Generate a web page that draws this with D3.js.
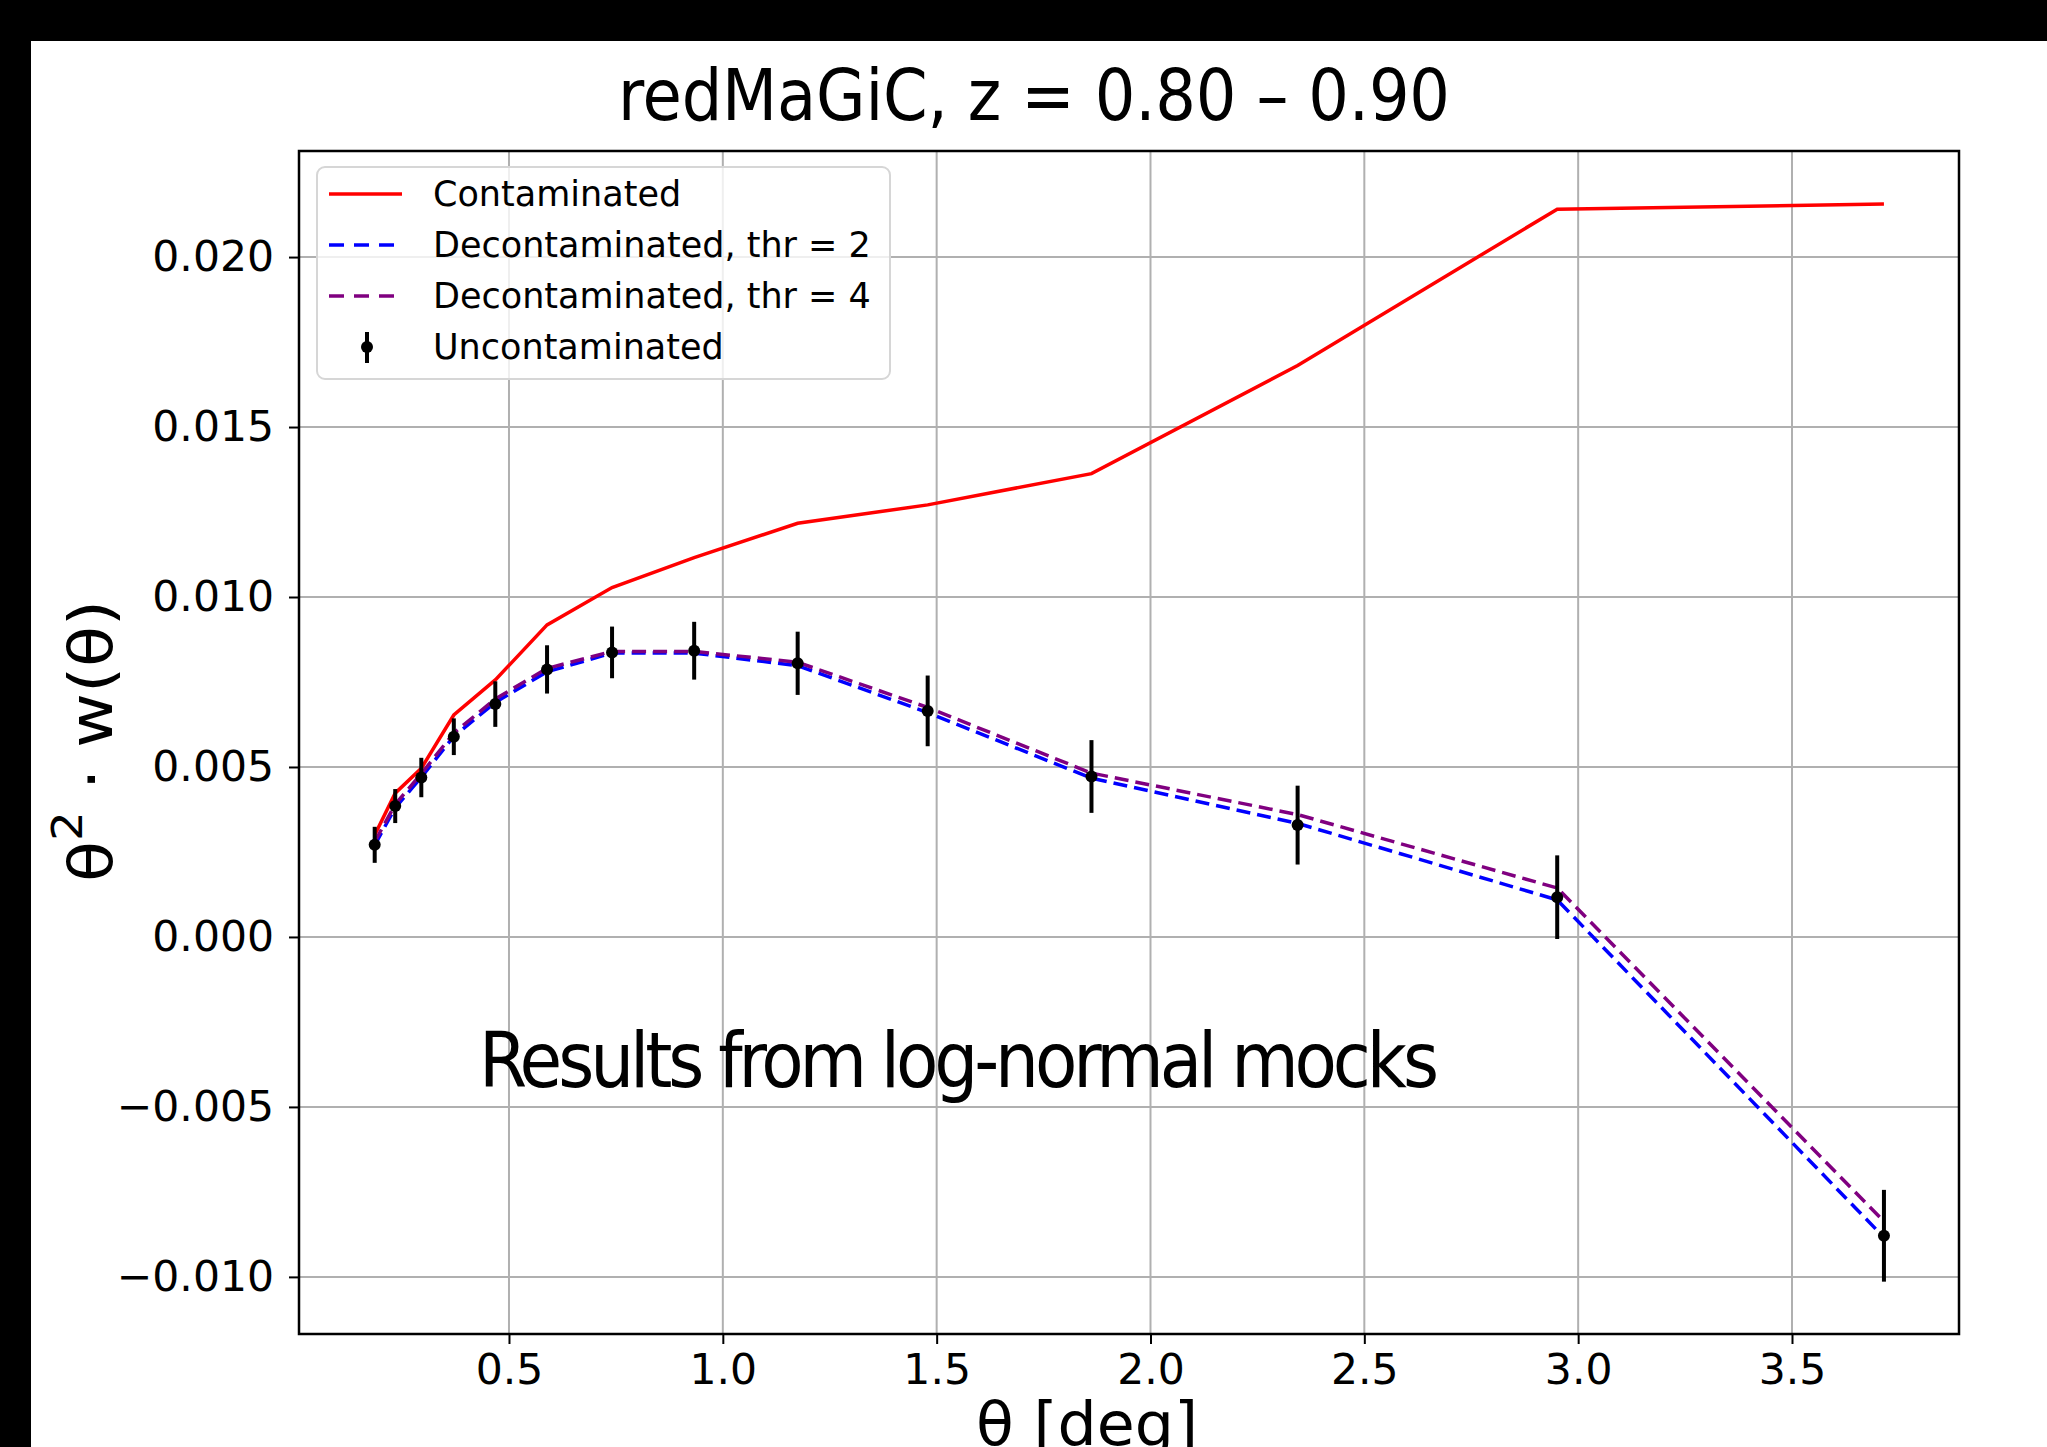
<!DOCTYPE html>
<html>
<head>
<meta charset="utf-8">
<script src="https://cdn.jsdelivr.net/npm/d3@7"></script>
<style>
  body { margin: 0; background: #fff; overflow: hidden; }
  svg text { font-family: "DejaVu Sans", sans-serif; fill: #000; }
  .slide { font-family: "Liberation Sans Narrow", "DejaVu Sans Condensed", "Liberation Sans", sans-serif; }
</style>
</head>
<body>
<svg id="chart" width="2047" height="1447"></svg>
<script>
// Data
const theta = [0.186, 0.234, 0.295, 0.371, 0.468, 0.589, 0.741, 0.933, 1.175, 1.479, 1.862, 2.344, 2.951, 3.715];
const contaminated = [0.0030, 0.00423, 0.00496, 0.00653, 0.00756, 0.00918, 0.01028, 0.01116, 0.01217, 0.01271, 0.01363, 0.01681, 0.02141, 0.02156];
const decontThr2 = [0.0027, 0.0038, 0.0047, 0.0059, 0.0069, 0.0078, 0.00835, 0.00835, 0.00798, 0.0066, 0.00467, 0.00334, 0.00109, -0.00884];
const decontThr4 = [0.0028, 0.0039, 0.0048, 0.0060, 0.0070, 0.0079, 0.0084, 0.0084, 0.00808, 0.00675, 0.00482, 0.0036, 0.00144, -0.00837];
const uncontaminated = [0.00271, 0.00385, 0.00469, 0.00589, 0.00685, 0.00787, 0.00837, 0.00842, 0.00805, 0.00665, 0.00472, 0.00329, 0.00117, -0.00879];
const uncontErr = [0.00053, 0.0005, 0.00058, 0.00054, 0.00067, 0.00071, 0.00076, 0.00085, 0.00093, 0.00104, 0.00107, 0.00116, 0.00123, 0.00135];

const xTicks = [0.5, 1.0, 1.5, 2.0, 2.5, 3.0, 3.5];
const yTicks = [-0.010, -0.005, 0.000, 0.005, 0.010, 0.015, 0.020];

const legendLabels = ['Contaminated', 'Decontaminated, thr = 2', 'Decontaminated, thr = 4', 'Uncontaminated'];
const legendColors = ['#ff0000', '#0000ff', '#800080', '#000000'];

// Layout
const W = 2047, H = 1447;
const margin = {top: 151, right: 88, bottom: 113, left: 299};
let w = W - margin.left - margin.right;
let h = H - margin.top - margin.bottom;

let svg = d3.select('#chart');

// slide background: black bands top and left
svg.append('rect').attr('width', W).attr('height', H).attr('fill', '#fff');
svg.append('rect').attr('width', W).attr('height', 41).attr('fill', '#000');
svg.append('rect').attr('width', 31).attr('height', H).attr('fill', '#000');

let xScale = d3.scaleLinear().domain([0.009, 3.8905]).range([0, w]);
let yScale = d3.scaleLinear().domain([-0.01168, 0.02312]).range([h, 0]);

let plot = svg.append('g')
  .attr('id', 'plot')
  .attr('transform', `translate(${margin.left}, ${margin.top})`);

// grid
plot.append('g').attr('class', 'grid')
  .selectAll('line.gx')
  .data(xTicks)
  .enter().append('line')
    .attr('x1', d => xScale(d)).attr('x2', d => xScale(d))
    .attr('y1', 0).attr('y2', h)
    .attr('stroke', '#b0b0b0').attr('stroke-width', 2);
plot.select('.grid')
  .selectAll('line.gy')
  .data(yTicks)
  .enter().append('line')
    .attr('x1', 0).attr('x2', w)
    .attr('y1', d => yScale(d)).attr('y2', d => yScale(d))
    .attr('stroke', '#b0b0b0').attr('stroke-width', 2);

// axes
let xAxis = d3.axisBottom(xScale).tickValues(xTicks).tickFormat(d3.format('.1f')).tickSize(10).tickPadding(10);
let yAxis = d3.axisLeft(yScale).tickValues(yTicks).tickFormat(d3.format('.3f')).tickSize(10).tickPadding(15);

let gx = plot.append('g').attr('transform', `translate(0, ${h})`).call(xAxis);
let gy = plot.append('g').call(yAxis);
[gx, gy].forEach(g => {
  g.select('.domain').remove();
  g.selectAll('.tick line').attr('stroke', '#000').attr('stroke-width', 2);
  g.selectAll('.tick text')
    .attr('fill', '#000')
    .style('font-family', '"DejaVu Sans", sans-serif')
    .style('font-size', '42.5px');
});

// lines
let pts = arr => theta.map((t, i) => [t, arr[i]]);
let line = d3.line().x(d => xScale(d[0])).y(d => yScale(d[1]));

plot.append('path').datum(pts(contaminated))
  .attr('d', line).attr('fill', 'none')
  .attr('stroke', legendColors[0]).attr('stroke-width', 3.5);
plot.append('path').datum(pts(decontThr2))
  .attr('d', line).attr('fill', 'none')
  .attr('stroke', legendColors[1]).attr('stroke-width', 3.5)
  .attr('stroke-dasharray', '14,7');
plot.append('path').datum(pts(decontThr4))
  .attr('d', line).attr('fill', 'none')
  .attr('stroke', legendColors[2]).attr('stroke-width', 3.5)
  .attr('stroke-dasharray', '14,7');

// error bars
let eb = plot.append('g').attr('class', 'errorbars');
eb.selectAll('line')
  .data(theta)
  .enter().append('line')
    .attr('x1', d => xScale(d)).attr('x2', d => xScale(d))
    .attr('y1', (d, i) => yScale(uncontaminated[i] - uncontErr[i]))
    .attr('y2', (d, i) => yScale(uncontaminated[i] + uncontErr[i]))
    .attr('stroke', '#000').attr('stroke-width', 4);
eb.selectAll('circle')
  .data(theta)
  .enter().append('circle')
    .attr('cx', d => xScale(d))
    .attr('cy', (d, i) => yScale(uncontaminated[i]))
    .attr('r', 6)
    .attr('fill', '#000');

// frame
plot.append('rect')
  .attr('width', w).attr('height', h)
  .attr('fill', 'none').attr('stroke', '#000').attr('stroke-width', 2.5);

// legend
let legend = svg.append('g').attr('transform', 'translate(317, 167)');
legend.append('rect')
  .attr('width', 573).attr('height', 212).attr('rx', 8)
  .attr('fill', '#fff').attr('fill-opacity', 0.8)
  .attr('stroke', '#d6d6d6').attr('stroke-width', 2);
let rowY = [27, 78, 129, 180];
legendLabels.forEach((lab, i) => {
  let y = rowY[i];
  if (i < 3) {
    legend.append('line')
      .attr('x1', 12).attr('x2', 85).attr('y1', y).attr('y2', y)
      .attr('stroke', legendColors[i]).attr('stroke-width', 3.5)
      .attr('stroke-dasharray', i === 0 ? null : '15,10');
  } else {
    legend.append('line')
      .attr('x1', 50).attr('x2', 50).attr('y1', y - 15).attr('y2', y + 16)
      .attr('stroke', '#000').attr('stroke-width', 4);
    legend.append('circle').attr('cx', 50).attr('cy', y).attr('r', 6).attr('fill', '#000');
  }
  legend.append('text')
    .attr('x', 116).attr('y', y + 12)
    .style('font-size', '35px')
    .text(lab);
});

// y label
let ylab = svg.append('text')
  .attr('transform', 'translate(112, 741) rotate(-90)')
  .attr('text-anchor', 'middle')
  .attr('textLength', 282).attr('lengthAdjust', 'spacingAndGlyphs')
  .style('font-size', '60px');
ylab.append('tspan').text('θ');
ylab.append('tspan').attr('dy', -30).style('font-size', '42px').text('2');
ylab.append('tspan').attr('dy', 30).text(' · w(θ)');

// x label (the reference cuts it at the bottom edge)
svg.append('text')
  .attr('x', 976).attr('y', 1445)
  .attr('textLength', 222).attr('lengthAdjust', 'spacingAndGlyphs')
  .style('font-size', '60px')
  .text('θ [deg]');

// slide texts
svg.append('text').attr('class', 'slide')
  .attr('x', 618).attr('y', 120)
  .attr('textLength', 832).attr('lengthAdjust', 'spacing')
  .style('font-size', '71px')
  .text('redMaGiC, z = 0.80 – 0.90');

svg.append('text').attr('class', 'slide')
  .attr('x', 479).attr('y', 1087)
  .attr('textLength', 960).attr('lengthAdjust', 'spacing')
  .style('font-size', '77px')
  .text('Results from log-normal mocks');
</script>
</body>
</html>
